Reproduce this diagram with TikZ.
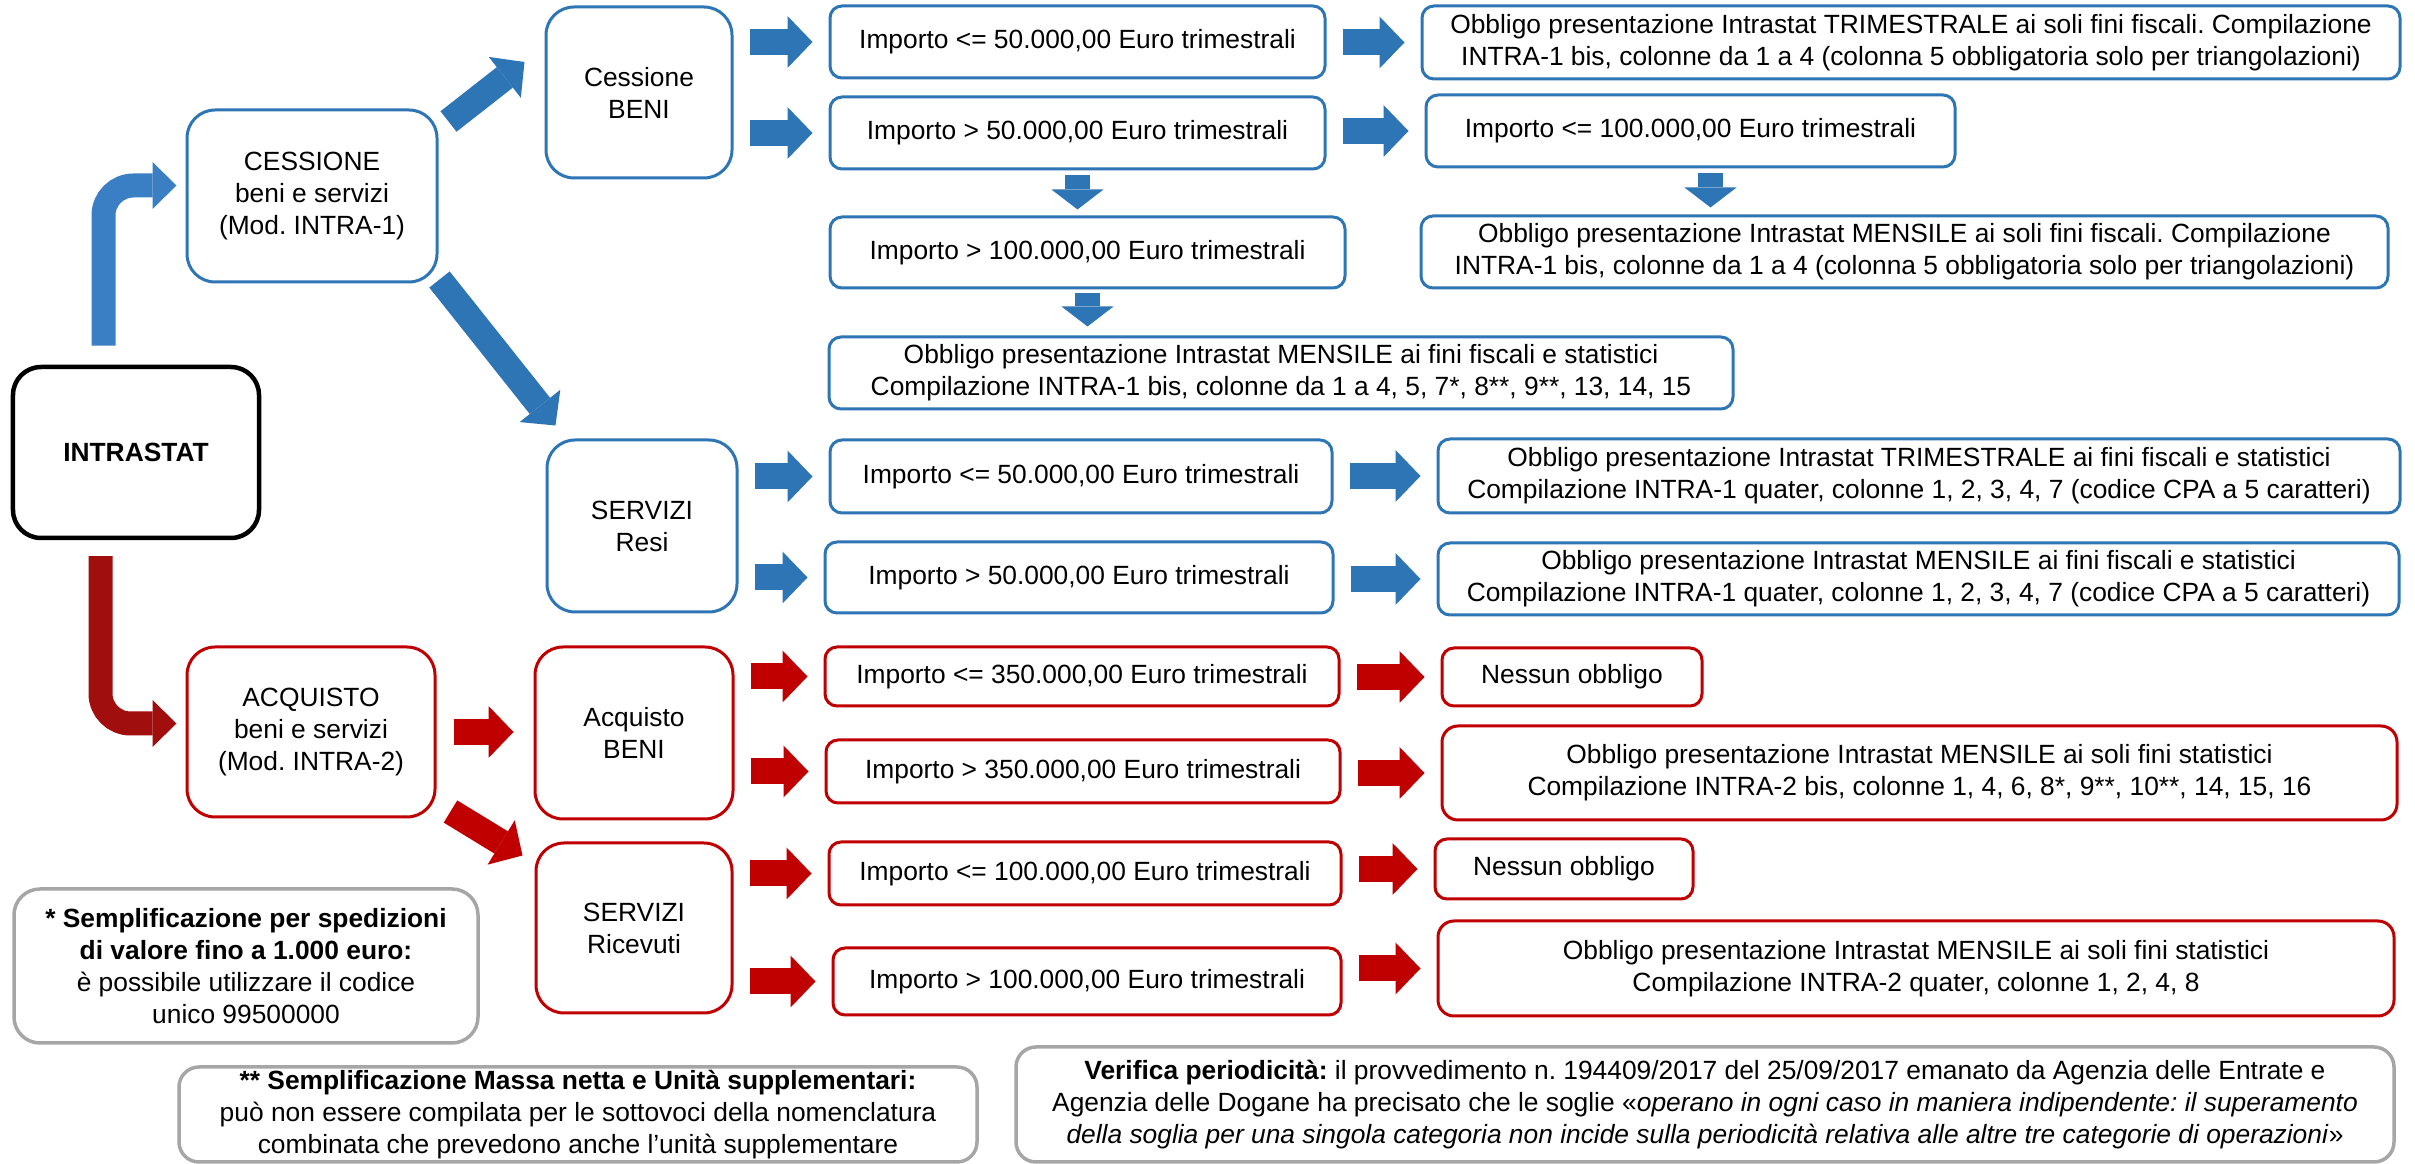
\documentclass[tikz,border=0pt]{standalone}
\usepackage{fontspec}
\setmainfont{Liberation Sans}
\usetikzlibrary{arrows.meta, positioning}
\definecolor{iblue}{RGB}{46,117,182}
\definecolor{ibluel}{RGB}{58,127,196}
\definecolor{ired}{RGB}{192,0,0}
\definecolor{idred}{RGB}{160,14,14}
\definecolor{igrey}{RGB}{166,166,166}
\frenchspacing

\tikzset{
    ibox/.style={draw, line width=0.03cm, inner sep=0pt, align=center, rounded corners=0.12cm},
    roundbig/.style={rounded corners=0.28cm},
    bluebox/.style={ibox, draw=iblue},
    redbox/.style={ibox, draw=ired},
    notebox/.style={ibox, draw=igrey, line width=0.035cm, rounded corners=0.2cm},
    wh/.style 2 args={minimum width=#1cm, minimum height=#2cm},
    blk/.style={line width=0.26cm, -{Triangle[length=0.25cm, width=0.52cm, line width=0pt]}},
    hgap/.style={shorten <=0.16cm, shorten >=0.16cm},
    vblk/.style={line width=0.25cm, -{Triangle[length=0.2cm, width=0.52cm, line width=0pt]}},
    elbow/.style={line width=0.24cm, rounded corners=0.3cm, -{Triangle[length=0.24cm, width=0.47cm, line width=0pt]}},
}

\begin{document}
\begin{tikzpicture}[font=\fontsize{7.5}{9.1}\selectfont]
    \useasboundingbox (0,0) rectangle (24.15,-11.64);

    \node[ibox, roundbig, line width=0.045cm, wh={2.46}{1.71}] (intra) at (1.36,-4.525) {\textbf{INTRASTAT}};
    \node[bluebox, roundbig, wh={2.50}{1.72}] (cess) at (3.12,-1.96) {CESSIONE\\beni e servizi\\(Mod. INTRA-1)};
    \node[redbox, roundbig, wh={2.48}{1.70}] (acq) at (3.11,-7.32) {ACQUISTO\\beni e servizi\\(Mod. INTRA-2)};
    \node[bluebox, roundbig, wh={1.86}{1.71}] (cbeni) at (6.39,-0.925) {Cessione\\BENI};
    \node[bluebox, roundbig, wh={1.90}{1.72}] (sresi) at (6.42,-5.26) {SERVIZI\\Resi};
    \node[redbox, roundbig, wh={1.98}{1.72}] (abeni) at (6.34,-7.33) {Acquisto\\BENI};
    \node[redbox, roundbig, wh={1.96}{1.70}] (sric) at (6.34,-9.28) {SERVIZI\\Ricevuti};

    \node[bluebox, wh={4.95}{0.72}] (i1) at (10.775,-0.42) {Importo <= 50.000,00 Euro trimestrali};
    \node[bluebox, wh={4.95}{0.72}] (i2) at (10.775,-1.33) {Importo > 50.000,00 Euro trimestrali};
    \node[bluebox, wh={5.15}{0.71}] (i3) at (10.875,-2.525) {Importo > 100.000,00 Euro trimestrali};
    \node[bluebox, wh={9.04}{0.72}] (om1) at (12.81,-3.73) {Obbligo presentazione Intrastat MENSILE ai fini fiscali e statistici\\Compilazione INTRA-1 bis, colonne da 1 a 4, 5, 7*, 8**, 9**, 13, 14, 15};
    \node[bluebox, wh={5.02}{0.73}] (r1) at (10.81,-4.765) {Importo <= 50.000,00 Euro trimestrali};
    \node[bluebox, wh={5.08}{0.71}] (r2) at (10.79,-5.775) {Importo > 50.000,00 Euro trimestrali};
    \node[redbox, wh={5.14}{0.59}] (a1) at (10.82,-6.765) {Importo <= 350.000,00 Euro trimestrali};
    \node[redbox, wh={5.14}{0.63}] (a2) at (10.83,-7.715) {Importo > 350.000,00 Euro trimestrali};
    \node[redbox, wh={5.12}{0.63}] (s1) at (10.85,-8.735) {Importo <= 100.000,00 Euro trimestrali};
    \node[redbox, wh={5.08}{0.67}] (s2) at (10.87,-9.815) {Importo > 100.000,00 Euro trimestrali};

    \node[bluebox, wh={9.78}{0.73}] (ot1) at (19.11,-0.425) {Obbligo presentazione Intrastat TRIMESTRALE ai soli fini fiscali. Compilazione\\INTRA-1 bis, colonne da 1 a 4 (colonna 5 obbligatoria solo per triangolazioni)};
    \node[bluebox, wh={5.29}{0.72}] (i4) at (16.905,-1.31) {Importo <= 100.000,00 Euro trimestrali};
    \node[bluebox, wh={9.67}{0.72}] (om2) at (19.045,-2.52) {Obbligo presentazione Intrastat MENSILE ai soli fini fiscali. Compilazione\\INTRA-1 bis, colonne da 1 a 4 (colonna 5 obbligatoria solo per triangolazioni)};
    \node[bluebox, wh={9.62}{0.74}] (ot2) at (19.19,-4.76) {Obbligo presentazione Intrastat TRIMESTRALE ai fini fiscali e statistici\\Compilazione INTRA-1 quater, colonne 1, 2, 3, 4, 7 (codice CPA a 5 caratteri)};
    \node[bluebox, wh={9.61}{0.72}] (om3) at (19.185,-5.79) {Obbligo presentazione Intrastat MENSILE ai fini fiscali e statistici\\Compilazione INTRA-1 quater, colonne 1, 2, 3, 4, 7 (codice CPA a 5 caratteri)};
    \node[redbox, wh={2.60}{0.58}] (n1) at (15.72,-6.77) {Nessun obbligo};
    \node[redbox, rounded corners=0.16cm, wh={9.55}{0.94}] (oa) at (19.195,-7.73) {Obbligo presentazione Intrastat MENSILE ai soli fini statistici\\Compilazione INTRA-2 bis, colonne 1, 4, 6, 8*, 9**, 10**, 14, 15, 16};
    \node[redbox, wh={2.58}{0.60}] (n2) at (15.64,-8.69) {Nessun obbligo};
    \node[redbox, rounded corners=0.16cm, wh={9.56}{0.95}] (os) at (19.16,-9.685) {Obbligo presentazione Intrastat MENSILE ai soli fini statistici\\Compilazione INTRA-2 quater, colonne 1, 2, 4, 8};

    \node[notebox, rounded corners=0.26cm, wh={4.64}{1.54}] (nt1) at (2.46,-9.66) {\textbf{* Semplificazione per spedizioni}\\\textbf{di valore fino a 1.000 euro:}\\è possibile utilizzare il codice\\unico 99500000};
    \node[notebox, wh={7.98}{0.95}] (nt2) at (5.78,-11.145) {\textbf{** Semplificazione Massa netta e Unità supplementari:}\\può non essere compilata per le sottovoci della nomenclatura\\combinata che prevedono anche l’unità supplementare};
    \node[notebox, wh={13.78}{1.15}] (nt3) at (17.05,-11.045) {\textbf{Verifica periodicità:} il provvedimento n. 194409/2017 del 25/09/2017 emanato da Agenzia delle Entrate e\\Agenzia delle Dogane ha precisato che le soglie «\textit{operano in ogni caso in maniera indipendente: il superamento}\\\textit{della soglia per una singola categoria non incide sulla periodicità relativa alle altre tre categorie di operazioni}»};

    \draw[elbow, ibluel] ([shift={(-0.325,0.19)}]intra.north) |- ([shift={(-0.09,0.105)}]cess.west);
    \draw[elbow, idred] ([shift={(-0.355,-0.16)}]intra.south) |- ([shift={(-0.09,0.085)}]acq.west);

    \draw[blk, iblue] ([shift={(0.1,-0.13)}]cess.north east) -- ([shift={(-0.2,0.305)}]cbeni.west);
    \draw[blk, iblue] ([shift={(0.01,0.04)}]cess.south east) -- ([shift={(0.1,0.13)}]sresi.north west);
    \draw[blk, ired, shorten <=0.17cm, shorten >=0.2cm] (acq.east) -- (acq.east -| abeni.west);
    \draw[blk, ired] ([shift={(0.14,0.07)}]acq.south east) -- ([shift={(-0.12,-0.14)}]sric.north west);

    \draw[blk, hgap, iblue] (cbeni.east |- i1.west) -- (i1.west);
    \draw[blk, hgap, iblue] (cbeni.east |- i2.west) -- (i2.west);
    \draw[blk, hgap, iblue] (i1.east |- ot1.west) -- (ot1.west);
    \draw[blk, hgap, iblue] (i2.east |- i4.west) -- (i4.west);
    \draw[vblk, iblue, shorten <=0.05cm, shorten >=0.06cm] (i2.south) -- (i2.south |- i3.north);
    \draw[vblk, iblue, shorten <=0.04cm, shorten >=0.09cm] (i3.south) -- (i3.south |- om1.north);
    \draw[vblk, iblue, shorten <=0.05cm, shorten >=0.07cm] ([xshift=0.2cm]i4.south) -- ([xshift=0.2cm]i4.south |- om2.north);

    \draw[blk, hgap, iblue] (sresi.east |- r1.west) -- (r1.west);
    \draw[blk, hgap, iblue] (sresi.east |- r2.west) -- (r2.west);
    \draw[blk, hgap, iblue] (r1.east |- ot2.west) -- (ot2.west);
    \draw[blk, hgap, iblue] (r2.east |- om3.west) -- (om3.west);

    \draw[blk, hgap, ired] (abeni.east |- a1.west) -- (a1.west);
    \draw[blk, hgap, ired] (abeni.east |- a2.west) -- (a2.west);
    \draw[blk, hgap, ired] (a1.east |- n1.west) -- (n1.west);
    \draw[blk, hgap, ired] (a2.east |- oa.west) -- (oa.west);
    \draw[blk, hgap, ired] (sric.east |- s1.west) -- (s1.west);
    \draw[blk, hgap, ired] (sric.east |- s2.west) -- (s2.west);
    \draw[blk, hgap, ired] (s1.east |- n2.west) -- (n2.west);
    \draw[blk, hgap, ired] (s2.east |- os.west) -- (os.west);
\end{tikzpicture}
\end{document}
